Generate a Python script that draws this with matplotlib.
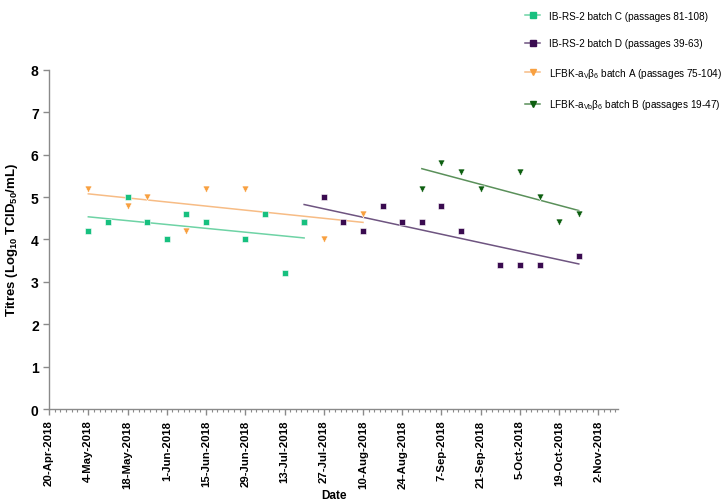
import matplotlib
matplotlib.use('Agg')
import matplotlib.pyplot as plt
import matplotlib.dates as mdates
from matplotlib.lines import Line2D
import numpy as np
import pandas as pd

plt.rcParams['font.family'] = ['Liberation Sans', 'DejaVu Sans']
plt.rcParams['mathtext.default'] = 'regular'

# IB-RS-2 batch C
c_dates = ['2018-05-04', '2018-05-11', '2018-05-18', '2018-05-25', '2018-06-01', '2018-06-08',
           '2018-06-15', '2018-06-29', '2018-07-06', '2018-07-13', '2018-07-20']
c_vals = [4.2, 4.4, 5.0, 4.4, 4.0, 4.6, 4.4, 4.0, 4.6, 3.2, 4.4]

# IB-RS-2 batch D
d_dates = ['2018-07-20', '2018-07-27', '2018-08-03', '2018-08-10', '2018-08-17', '2018-08-24',
           '2018-08-31', '2018-09-07', '2018-09-14', '2018-09-28', '2018-10-05', '2018-10-12',
           '2018-10-26']
d_vals = [4.4, 5.0, 4.4, 4.2, 4.8, 4.4, 4.4, 4.8, 4.2, 3.4, 3.4, 3.4, 3.6]

# LFBK-avb6 batch A
a_dates = ['2018-05-04', '2018-05-18', '2018-05-25', '2018-06-08', '2018-06-15', '2018-06-29',
           '2018-07-27', '2018-08-10']
a_vals = [5.2, 4.8, 5.0, 4.2, 5.2, 5.2, 4.0, 4.6]

# LFBK-avb6 batch B
b_dates = ['2018-08-31', '2018-09-07', '2018-09-14', '2018-09-21', '2018-10-05', '2018-10-12',
           '2018-10-19', '2018-10-26']
b_vals = [5.2, 5.8, 5.6, 5.2, 5.6, 5.0, 4.4, 4.6]

series = [
    ('IB-RS-2 batch C (passages 81-108)', c_dates, c_vals, 's', '#17C07F', '#6ED3A5', 4),
    ('IB-RS-2 batch D (passages 39-63)', d_dates, d_vals, 's', '#3A0B50', '#6E5480', 3),
    ('LFBK-a$_V$β$_6$ batch A (passages 75-104)', a_dates, a_vals, 'v', '#F8A040', '#F7BC85', 5),
    ('LFBK-a$_{Vb}$β$_6$ batch B (passages 19-47)', b_dates, b_vals, 'v', '#0D5F10', '#5A905A', 6),
]

fig = plt.figure(figsize=(7.22, 5.02), dpi=100)
ax = fig.add_axes([0.068, 0.183, 0.788, 0.676])

handles = []
for label, dates, vals, mk, col, lcol, z in series:
    x = mdates.date2num(pd.to_datetime(dates))
    y = np.array(vals)
    ax.scatter(x, y, marker=mk, s=25, color=col, edgecolors='white', linewidths=0.4, zorder=z)
    k, b = np.polyfit(x, y, 1)
    xs = np.array([x.min(), x.max()])
    ax.plot(xs, k * xs + b, color=lcol, lw=1.1, zorder=2)
    handles.append(Line2D([0], [0], color=lcol, lw=1.1, marker=mk, markersize=4.5,
                          markerfacecolor=col, markeredgecolor=col, label=label))

start = mdates.date2num(pd.Timestamp('2018-04-20'))
ax.set_xlim(start, start + 203)
ax.set_ylim(0, 8)
ax.xaxis.set_major_locator(plt.FixedLocator(start + np.arange(0, 197, 14)))
ax.xaxis.set_minor_locator(plt.FixedLocator(start + np.arange(0, 204, 2)))
ax.xaxis.set_major_formatter(plt.FuncFormatter(
    lambda v, p: '%d-%s' % (mdates.num2date(v).day, mdates.num2date(v).strftime('%b-%Y'))))
ax.set_yticks(range(0, 9))

for s in ['top', 'right']:
    ax.spines[s].set_visible(False)
for s in ['left', 'bottom']:
    ax.spines[s].set_color('#8a8a8a')
    ax.spines[s].set_linewidth(1.0)
ax.tick_params(axis='both', which='major', color='#8a8a8a', length=4, width=1.0, labelsize=10)
ax.tick_params(axis='x', which='minor', color='#8a8a8a', length=2.5, width=0.8)
ax.tick_params(axis='x', labelrotation=90, labelsize=8.2)
for t in ax.get_xticklabels() + ax.get_yticklabels():
    t.set_fontweight('bold')

ax.set_xlabel('Date', fontsize=8.5, fontweight='bold', labelpad=1)
ax.set_ylabel('Titres (Log$_{10}$ TCID$_{50}$/mL)', fontsize=9.5, fontweight='bold', labelpad=8)

fig.legend(handles=handles, loc='upper left', bbox_to_anchor=(0.715, 0.995), frameon=False,
           fontsize=7.2, handlelength=1.5, handletextpad=0.9, labelspacing=1.75)

fig.savefig('out.png', dpi=100)
